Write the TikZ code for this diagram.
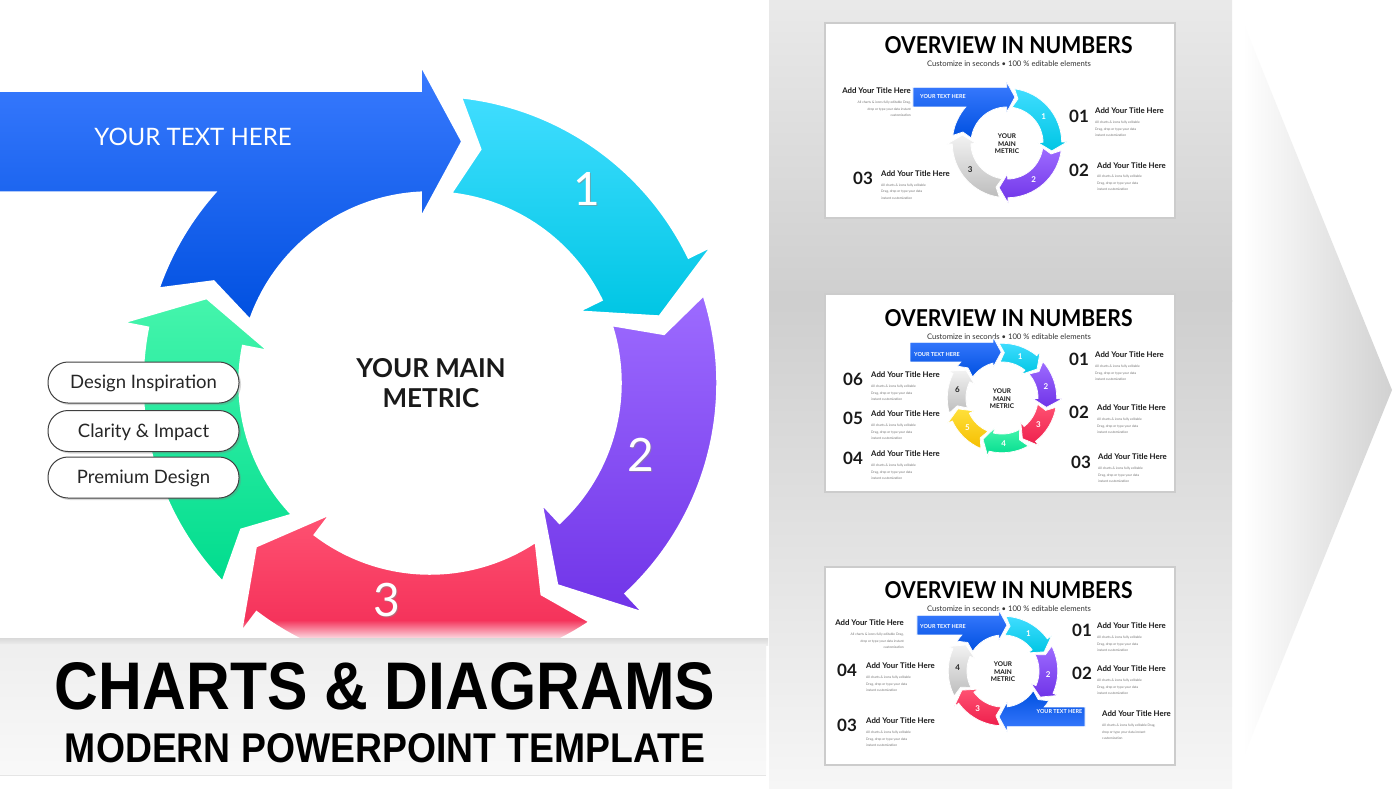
\documentclass[tikz,border=0pt]{standalone}
\usepackage{fontspec}
\usepackage{graphicx}
\setmainfont{Lato}
\newfontfamily\arialf{Liberation Sans}
\usetikzlibrary{shadows,fadings}
\definecolor{bluA}{HTML}{3A7BFF}
\definecolor{bluB}{HTML}{0050E0}
\definecolor{cyaA}{HTML}{40DDFF}
\definecolor{cyaB}{HTML}{00C6E4}
\definecolor{purA}{HTML}{9D6BFF}
\definecolor{purB}{HTML}{7034E8}
\definecolor{redA}{HTML}{FF5272}
\definecolor{redB}{HTML}{EE1F4C}
\definecolor{grnA}{HTML}{45F5AC}
\definecolor{grnB}{HTML}{00DC8E}
\definecolor{yelA}{HTML}{FFE03A}
\definecolor{yelB}{HTML}{F5BE00}
\definecolor{gryA}{HTML}{F2F2F2}
\definecolor{gryB}{HTML}{BDBDBD}
\def\Ro{288}\def\Ri{190}\def\Rm{239}\def\Ex{28}
% curved chevron arrow: tail angle, head base angle, tip angle, style
\newcommand\arcarr[4]{%
  \path[#4] ({#1}:\Ro) arc[start angle={#1}, end angle={#2}, radius=\Ro]
    -- ({#2}:{\Ro+\Ex}) -- ({#3}:\Rm) -- ({#2}:{\Ri-\Ex}) -- ({#2}:\Ri)
    arc[start angle={#2}, end angle={#1}, radius=\Ri] -- ({#1-6}:\Rm) -- cycle;}
% blue arrow with horizontal bar: tail angle, tip x, bar end x, style
\newcommand\bluearr[4]{%
  \pgfmathsetmacro\myHx{#2-43}%
  \pgfmathsetmacro\myAH{acos(\myHx/\Ri)}%
  \pgfmathsetmacro\myAB{180-asin(\Ri/\Ro)}%
  \path[#4] (#3,{\Ro+5}) -- (\myHx,{\Ro+5}) -- (\myHx,{\Ro+5+\Ex}) -- (#2,{(\Ro+5+\Ri)/2})
    -- (\myHx,{\Ri-\Ex}) -- (\myAH:\Ri) arc[start angle=\myAH, end angle={#1}, radius=\Ri]
    -- ({#1-6}:\Rm) -- ({#1}:\Ro) arc[start angle={#1}, end angle=\myAB, radius=\Ro]
    -- (#3,\Ri) -- cycle;}
% thumbnail segment: tail, span, style, label, label colour, name
\newcommand\thumbarr[6]{%
  \pgfmathsetmacro\mytB{#1-#2+9}%
  \pgfmathsetmacro\mytP{#1-#2-2}%
  \pgfmathsetmacro\mytL{#1-#2/2-1}%
  \arcarr{#1}{\mytB}{\mytP}{#3,septhumb}%
  \node[thumblab, text=#5] (#6) at (\mytL:\Rm) {#4};}
\newcommand\bodyA{All charts \& icons fully editable\\Drag, drop or type your data\\instant customization}
\newcommand\bodyB{All charts \& icons fully editable Drag,\\drop or type your data instant\\customization}
\tikzset{
  fblu/.style={top color=bluA, bottom color=bluB},
  fbluR/.style={top color=bluB, bottom color=bluA},
  fcya/.style={top color=cyaA, bottom color=cyaB},
  fpur/.style={top color=purA, bottom color=purB},
  fred/.style={top color=redA, bottom color=redB},
  fgrn/.style={top color=grnA, bottom color=grnB},
  fyel/.style={top color=yelA, bottom color=yelB},
  fgry/.style={top color=gryA, bottom color=gryB},
  sepmain/.style={draw=white, line width=3.5pt},
  septhumb/.style={draw=white, line width=0.7pt},
  thumblab/.style={font=\fontsize{8}{8}\selectfont\bfseries, inner sep=0},
  bignum/.style={font=\fontsize{46}{46}\selectfont, text=white, anchor=base, inner sep=0},
  pill/.style={draw=black!75, line width=1pt, fill=white, rounded corners=20pt,
    minimum width=191pt, minimum height=41pt, inner sep=0,
    font=\fontsize{18.5}{20}\selectfont, text=black!85, text height=12.5pt, text depth=0pt,
    drop shadow={shadow xshift=2pt, shadow yshift=-2pt, opacity=0.3}},
  slidebox/.style={fill=white, draw=gray!40, line width=1.2pt},
  otitle/.style={anchor=base, inner sep=0},
  tnum/.style={font=\fontsize{17}{17}\selectfont\bfseries, inner sep=0, anchor=base west, text=black!90},
  ttitle/.style={font=\fontsize{7.8}{9}\selectfont\bfseries, inner sep=0, anchor=base west, text=black!90},
  tbody/.style={font=\fontsize{3.3}{6.5}\selectfont, text=black!55, inner sep=0, align=left, anchor=north west},
  tmetric/.style={font=\fontsize{6.5}{7.6}\selectfont\bfseries, align=center, inner sep=0, text=black!90},
  tyth/.style={font=\fontsize{5.5}{6}\selectfont\bfseries, text=white, inner sep=0},
}
\begin{document}
\begin{tikzpicture}[x=1pt,y=1pt]
\useasboundingbox (0,0) rectangle (1400,-788);
\fill[white] (0,0) rectangle (1400,-788);
% right grey panel and chevron
\path[top color=gray!17, bottom color=gray!38] (769,0) rectangle (1232,-301);
\path[top color=gray!38, bottom color=gray!7] (769,-300) rectangle (1232,-788);
\path[left color=white, right color=gray!36] (1243,-22) -- (1392,-390) -- (1243,-758) -- cycle;

% ---------- main cycle ----------
\begin{scope}[shift={(430,-383)}]
  \arcarr{224}{169}{159}{fgrn,sepmain}
  \arcarr{-56}{-127}{-137}{fred,sepmain}
  \arcarr{18}{-47}{-58}{fpur,sepmain}
  \arcarr{84}{26}{16}{fcya,sepmain}
  \bluearr{161}{33}{-440}{fblu,sepmain}
\end{scope}
\node[font=\fontsize{24}{24}\selectfont, text=white, anchor=base, inner sep=0] (ytx) at (193,-145) {YOUR TEXT HERE};
\node[font=\fontsize{26}{26}\selectfont\bfseries, text=black!90, anchor=base, inner sep=0] (ym1) at (431,-377) {YOUR MAIN};
\node[font=\fontsize{26}{26}\selectfont\bfseries, text=black!90, anchor=base, inner sep=0] (ym2) at (431,-407) {METRIC};
\node[bignum, text=black!45, opacity=0.6] (l1s) at (588.2,-206.2) {1};
\node[bignum] (l1) at (587,-205) {1};
\node[bignum, text=black!45, opacity=0.6] (l2s) at (642.2,-472.7) {2};
\node[bignum] (l2) at (641,-471.5) {2};
\node[bignum, text=black!45, opacity=0.6] (l3s) at (388.2,-617.2) {3};
\node[bignum] (l3) at (387,-616) {3};

% pills
\node[pill] (p1) at (143.5,-382.5) {Design Inspiration};
\node[pill] (p2) at (143.5,-431) {Clarity \& Impact};
\node[pill] (p3) at (143.5,-477.5) {Premium Design};

% banner
\path[fill=white, path fading=north] (0,-620) rectangle (768,-642);
\path[top color=gray!30, bottom color=gray!13] (0,-638) rectangle (768,-645);
\path[top color=gray!13, bottom color=gray!5] (0,-644) rectangle (766,-775);
\draw[gray!20, line width=1pt] (0,-775) -- (766,-775);
\node[otitle] (bt1) at (385,-709) {\resizebox{660pt}{47pt}{\arialf\bfseries CHARTS \& DIAGRAMS}};
\node[otitle] (bt2) at (385,-762) {\resizebox{640pt}{29pt}{\arialf\bfseries MODERN POWERPOINT TEMPLATE}};

% ---------- slide 1 ----------
\path[slidebox] (825,-23) rectangle (1175,-218);
\node[otitle] (s1t) at (1008.5,-53) {\resizebox{248pt}{17pt}{\bfseries OVERVIEW IN NUMBERS}};
\node[otitle, text=black!80] (s1s) at (1009,-66) {\resizebox{164pt}{!}{\fontsize{8}{9}\selectfont Customize in seconds \textbullet\ 100 \% editable elements}};
\begin{scope}[shift={(1007,-143)}, scale=0.19]
  \thumbarr{-98}{90}{fgry}{3}{black!85}{s1c3}
  \thumbarr{-8}{90}{fpur}{2}{white}{s1c2}
  \thumbarr{82}{90}{fcya}{1}{white}{s1c1}
  \pgfmathsetmacro\mytx{\Rm*cos(80)}
  \bluearr{172}{\mytx}{-495}{fblu,septhumb}
\end{scope}
\node[tmetric] (s1m) at (1007,-144) {YOUR\\MAIN\\METRIC};
\node[tyth] (s1y) at (943,-97) {YOUR TEXT HERE};
\node[ttitle, anchor=base east] (s1a) at (911,-93) {Add Your Title Here};
\node[tbody, anchor=north east, align=right] (s1ab) at (911,-101) {\bodyB};
\node[tnum] (s1n1) at (1069,-122) {01};
\node[ttitle] (s1t1) at (1095,-113) {Add Your Title Here};
\node[tbody] (s1b1) at (1095,-121) {\bodyA};
\node[tnum] (s1n2) at (1069,-176) {02};
\node[ttitle] (s1t2) at (1097,-168) {Add Your Title Here};
\node[tbody] (s1b2) at (1097,-175) {\bodyA};
\node[tnum] (s1n3) at (853,-184) {03};
\node[ttitle] (s1t3) at (881,-176) {Add Your Title Here};
\node[tbody] (s1b3) at (881,-183.5) {\bodyA};

% ---------- slide 2 ----------
\path[slidebox] (825,-294) rectangle (1175,-492);
\node[otitle] (s2t) at (1008.5,-326) {\resizebox{248pt}{17pt}{\bfseries OVERVIEW IN NUMBERS}};
\node[otitle, text=black!80] (s2s) at (1009,-339) {\resizebox{164pt}{!}{\fontsize{8}{9}\selectfont Customize in seconds \textbullet\ 100 \% editable elements}};
\begin{scope}[shift={(1002,-398)}, scale=0.19]
  \thumbarr{-164.14}{51.43}{fgry}{6}{black!85}{s2c6}
  \thumbarr{-112.71}{51.43}{fyel}{5}{white}{s2c5}
  \thumbarr{-61.29}{51.43}{fgrn}{4}{white}{s2c4}
  \thumbarr{-9.86}{51.43}{fred}{3}{white}{s2c3}
  \thumbarr{41.57}{51.43}{fpur}{2}{white}{s2c2}
  \thumbarr{93}{51.43}{fcya}{1}{white}{s2c1}
  \pgfmathsetmacro\mytx{\Rm*cos(91)}
  \bluearr{144.43}{\mytx}{-484}{fblu,septhumb}
\end{scope}
\node[tmetric] (s2m) at (1002,-399) {YOUR\\MAIN\\METRIC};
\node[tyth] (s2y) at (937,-355) {YOUR TEXT HERE};
\node[tnum] (s2n1) at (1069,-365) {01};
\node[ttitle] (s2t1) at (1095,-357) {Add Your Title Here};
\node[tbody] (s2b1) at (1095,-365) {\bodyA};
\node[tnum] (s2n2) at (1069,-418) {02};
\node[ttitle] (s2t2) at (1097,-410) {Add Your Title Here};
\node[tbody] (s2b2) at (1097,-418) {\bodyA};
\node[tnum] (s2n3) at (1071,-468) {03};
\node[ttitle] (s2t3) at (1098,-459) {Add Your Title Here};
\node[tbody] (s2b3) at (1098,-467) {\bodyA};
\node[tnum] (s2n6) at (843,-385) {06};
\node[ttitle] (s2t6) at (871,-377) {Add Your Title Here};
\node[tbody] (s2b6) at (871,-385) {\bodyA};
\node[tnum] (s2n5) at (843,-424) {05};
\node[ttitle] (s2t5) at (871,-416) {Add Your Title Here};
\node[tbody] (s2b5) at (871,-424) {\bodyA};
\node[tnum] (s2n4) at (843,-464) {04};
\node[ttitle] (s2t4) at (871,-456) {Add Your Title Here};
\node[tbody] (s2b4) at (871,-464) {\bodyA};

% ---------- slide 3 ----------
\path[slidebox] (825,-567) rectangle (1175,-765);
\node[otitle] (s3t) at (1008.5,-598) {\resizebox{248pt}{17pt}{\bfseries OVERVIEW IN NUMBERS}};
\node[otitle, text=black!80] (s3s) at (1009,-611) {\resizebox{164pt}{!}{\fontsize{8}{9}\selectfont Customize in seconds \textbullet\ 100 \% editable elements}};
\begin{scope}[shift={(1003,-671)}, scale=0.19]
  \thumbarr{-153}{60}{fgry}{4}{black!85}{s3c4}
  \thumbarr{-93}{60}{fred}{3}{white}{s3c3}
  \thumbarr{27}{60}{fpur}{2}{white}{s3c2}
  \thumbarr{87}{60}{fcya}{1}{white}{s3c1}
  \pgfmathsetmacro\mytx{\Rm*cos(85)}
  \bluearr{147}{\mytx}{-453}{fblu,septhumb}
  \begin{scope}[rotate=180]
    \bluearr{147}{\mytx}{-432}{fbluR,septhumb}
  \end{scope}
\end{scope}
\node[tmetric] (s3m) at (1003,-672) {YOUR\\MAIN\\METRIC};
\node[tyth] (s3y) at (943,-626) {YOUR TEXT HERE};
\node[tyth] (s3y2) at (1059.5,-711) {YOUR TEXT HERE};
\node[ttitle, anchor=base east] (s3a) at (904,-625) {Add Your Title Here};
\node[tbody, anchor=north east, align=right] (s3ab) at (904,-633) {\bodyB};
\node[tnum] (s3n4) at (837,-676) {04};
\node[ttitle] (s3t4) at (866,-668) {Add Your Title Here};
\node[tbody] (s3b4) at (866,-676) {\bodyA};
\node[tnum] (s3n3) at (837,-731) {03};
\node[ttitle] (s3t3) at (866,-723) {Add Your Title Here};
\node[tbody] (s3b3) at (866,-731) {\bodyA};
\node[tnum] (s3n1) at (1072,-636) {01};
\node[ttitle] (s3t1) at (1097,-628) {Add Your Title Here};
\node[tbody] (s3b1) at (1097,-636) {\bodyA};
\node[tnum] (s3n2) at (1072,-679) {02};
\node[ttitle] (s3t2) at (1097,-671) {Add Your Title Here};
\node[tbody] (s3b2) at (1097,-679) {\bodyA};
\node[ttitle] (s3r) at (1102,-716) {Add Your Title Here};
\node[tbody] (s3rb) at (1102,-724) {\bodyB};
\end{tikzpicture}
\end{document}
